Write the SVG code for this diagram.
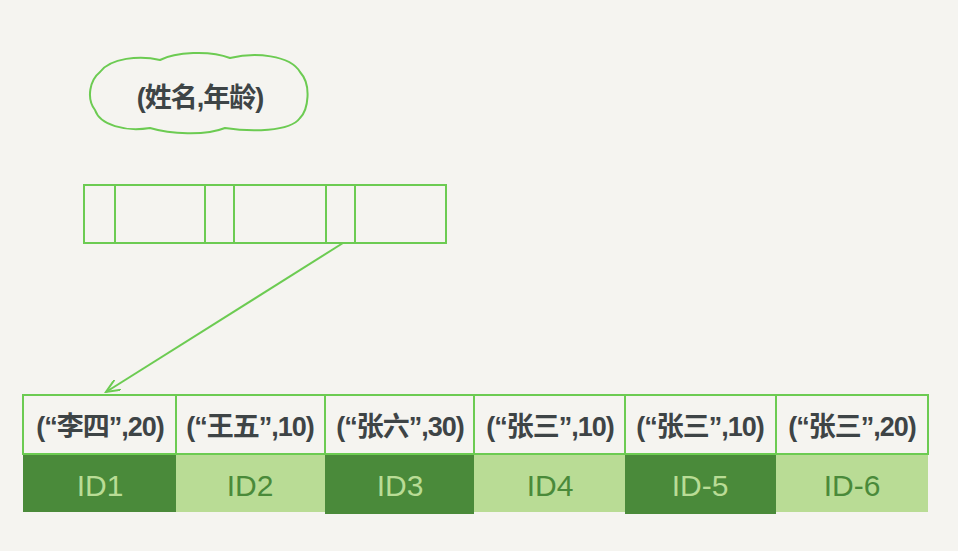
<svg xmlns="http://www.w3.org/2000/svg" width="958" height="551" viewBox="0 0 958 551">
<style>
.ln{fill:none;stroke:#6ccb52;stroke-width:2}
.t{font-family:"Liberation Sans","Noto Sans CJK SC",sans-serif;font-size:27px;font-weight:bold;fill:#3e4446;text-anchor:middle;letter-spacing:-1px}
.id{font-family:"Liberation Sans",sans-serif;font-size:30px;text-anchor:middle}
.dk{fill:#4a8a3a}.lt{fill:#b9dc95}
</style>
<defs><marker id="ah" markerWidth="16" markerHeight="12" refX="14" refY="6" orient="auto" markerUnits="userSpaceOnUse"><path d="M0,0 L14,6 L0,12" fill="none" stroke="#6ccb52" stroke-width="2"/></marker></defs>
<rect width="958" height="551" fill="#f5f4f0"/>
<g id="cloud">
<path class="ln" stroke-width="3" d="M100,72 C110,58 140,55 160,60 C175,52 210,50 230,58 C255,52 290,55 300,72 C312,85 308,110 300,118 C290,132 250,132 225,128 C205,136 170,134 150,128 C125,132 100,125 95,110 C86,98 90,80 100,72 Z"/>
<text class="t" x="200" y="107" font-size="31">(姓名,年龄)</text>
</g>
<g id="index">
<rect class="ln" x="84" y="185" width="362" height="58"/>
<path class="ln" d="M115,185V243M205,185V243M234,185V243M326,185V243M355,185V243"/>
</g>
<g id="connectors">
<line class="ln" x1="343" y1="243" x2="106" y2="392" marker-end="url(#ah)"/>
</g>
<g id="rows">
<rect class="ln" x="23" y="395" width="905" height="59"/>
<path class="ln" d="M176,395V454M325,395V454M474,395V454M625,395V454M776,395V454"/>
<text class="t" x="100" y="436">(“李四”,20)</text>
<text class="t" x="250" y="436">(“王五”,10)</text>
<text class="t" x="400" y="436">(“张六”,30)</text>
<text class="t" x="550" y="436">(“张三”,10)</text>
<text class="t" x="700" y="436">(“张三”,10)</text>
<text class="t" x="852" y="436">(“张三”,20)</text>
</g>
<g id="ids">
<rect class="dk" x="23" y="455" width="153" height="57"/>
<rect class="lt" x="176" y="455" width="149" height="57"/>
<rect class="dk" x="325" y="455" width="149" height="59"/>
<rect class="lt" x="474" y="455" width="151" height="57"/>
<rect class="dk" x="625" y="455" width="151" height="59"/>
<rect class="lt" x="776" y="455" width="152" height="57"/>
<text class="id" x="100" y="496" fill="#b9dc95">ID1</text>
<text class="id" x="250" y="496" fill="#4a8a3a">ID2</text>
<text class="id" x="400" y="496" fill="#b9dc95">ID3</text>
<text class="id" x="550" y="496" fill="#4a8a3a">ID4</text>
<text class="id" x="700" y="496" fill="#b9dc95">ID-5</text>
<text class="id" x="852" y="496" fill="#4a8a3a">ID-6</text>
</g>
</svg>
